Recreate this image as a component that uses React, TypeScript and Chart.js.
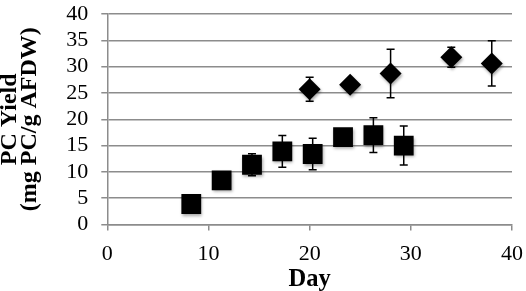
import React, { useEffect, useRef } from "react";
import { Chart, registerables } from "chart.js";

Chart.register(...registerables);

const squareDays = [8.3, 11.3, 14.3, 17.3, 20.3, 23.3, 26.3, 29.3];
const squareYield = [3.9, 8.4, 11.35, 13.9, 13.4, 16.6, 17.0, 15.0];
const squareErr = [0, 0, 2.1, 3.0, 3.0, 1.5, 3.3, 3.7];

const diamondDays = [20, 24, 28, 34, 38];
const diamondYield = [25.7, 26.55, 28.7, 31.8, 30.6];
const diamondErr = [2.3, 1.0, 4.6, 1.9, 4.3];

const xTicks = [0, 10, 20, 30, 40];
const yTicks = [0, 5, 10, 15, 20, 25, 30, 35, 40];

const SERIF = "'Liberation Serif', 'Times New Roman', serif";

const errorBarPlugin = {
  id: "errorBars",
  beforeDatasetsDraw(chart: any) {
    const ctx = chart.ctx;
    const xs = chart.scales.x;
    const ys = chart.scales.y;
    ctx.save();
    ctx.strokeStyle = "#000";
    ctx.lineWidth = 1.5;
    chart.data.datasets.forEach((ds: any) => {
      const errs: number[] = ds.errors || [];
      ds.data.forEach((p: any, i: number) => {
        const e = errs[i];
        if (!e) return;
        const px = xs.getPixelForValue(p.x);
        const top = ys.getPixelForValue(p.y + e);
        const bot = ys.getPixelForValue(p.y - e);
        ctx.beginPath();
        ctx.moveTo(px, top);
        ctx.lineTo(px, bot);
        ctx.moveTo(px - 4, top);
        ctx.lineTo(px + 4, top);
        ctx.moveTo(px - 4, bot);
        ctx.lineTo(px + 4, bot);
        ctx.stroke();
      });
    });
    ctx.restore();
  },
  beforeDatasetDraw(chart: any) {
    const ctx = chart.ctx;
    ctx.save();
    ctx.shadowColor = "rgba(0,0,0,0.35)";
    ctx.shadowBlur = 3;
    ctx.shadowOffsetX = 1;
    ctx.shadowOffsetY = 2;
  },
  afterDatasetDraw(chart: any) {
    chart.ctx.restore();
  },
};

export default function App() {
  const ref = useRef<HTMLCanvasElement | null>(null);
  useEffect(() => {
    document.body.style.margin = "0";
    if (!ref.current) return;
    const chart = new Chart(ref.current, {
      type: "scatter",
      data: {
        datasets: [
          {
            label: "Squares",
            data: squareDays.map((d, i) => ({ x: d, y: squareYield[i] })),
            errors: squareErr,
            pointStyle: "rect",
            pointRadius: 14,
            backgroundColor: "#000",
            borderColor: "#000",
            borderWidth: 0,
          } as any,
          {
            label: "Diamonds",
            data: diamondDays.map((d, i) => ({ x: d, y: diamondYield[i] })),
            errors: diamondErr,
            pointStyle: "rectRot",
            pointRadius: 11,
            backgroundColor: "#000",
            borderColor: "#000",
            borderWidth: 0,
          } as any,
        ],
      },
      plugins: [errorBarPlugin],
      options: {
        animation: false,
        responsive: false,
        maintainAspectRatio: false,
        layout: { padding: { top: 10, right: 13, left: 0, bottom: 0 } },
        plugins: {
          legend: { display: false },
          tooltip: { enabled: false },
        },
        scales: {
          x: {
            type: "linear",
            min: 0,
            max: 40,
            afterBuildTicks: (s: any) => {
              s.ticks = xTicks.map((v) => ({ value: v }));
            },
            afterFit: (s: any) => {
              s.height = 66.5;
              s.paddingLeft = 0;
              s.paddingRight = 0;
            },
            grid: {
              display: true,
              drawOnChartArea: false,
              drawTicks: true,
              tickLength: 6,
              color: "#8c8c8c",
              lineWidth: 1.5,
            },
            border: { display: true, color: "#8c8c8c", width: 1.5 },
            ticks: {
              color: "#000",
              font: { family: SERIF, size: 22 },
              padding: 11,
              maxRotation: 0,
              autoSkip: false,
            },
            title: {
              display: true,
              text: "Day",
              color: "#000",
              font: { family: SERIF, size: 24.5, weight: "bold", lineHeight: 0.9 },
              padding: 0,
            },
          },
          y: {
            type: "linear",
            min: 0,
            max: 40,
            afterBuildTicks: (s: any) => {
              s.ticks = yTicks.map((v) => ({ value: v }));
            },
            afterFit: (s: any) => {
              s.width = 107.3;
              s.paddingTop = 0;
              s.paddingBottom = 0;
            },
            grid: {
              display: true,
              drawOnChartArea: true,
              drawTicks: true,
              tickLength: 6,
              color: "#8c8c8c",
              lineWidth: 1.5,
            },
            border: { display: true, color: "#8c8c8c", width: 1.5 },
            ticks: {
              color: "#000",
              font: { family: SERIF, size: 22 },
              padding: 13,
              autoSkip: false,
            },
            title: {
              display: true,
              text: ["PC Yield", "(mg PC/g AFDW)"],
              color: "#000",
              font: { family: SERIF, size: 24, weight: "bold", lineHeight: 0.82 },
              padding: 0,
            },
          },
        },
      } as any,
    });
    return () => chart.destroy();
  }, []);
  return (
    <div style={{ position: "fixed", left: 0, top: 0, width: 526, height: 291, background: "#fff" }}>
      <canvas ref={ref} width={526} height={291} style={{ width: 526, height: 291 }} />
    </div>
  );
}
